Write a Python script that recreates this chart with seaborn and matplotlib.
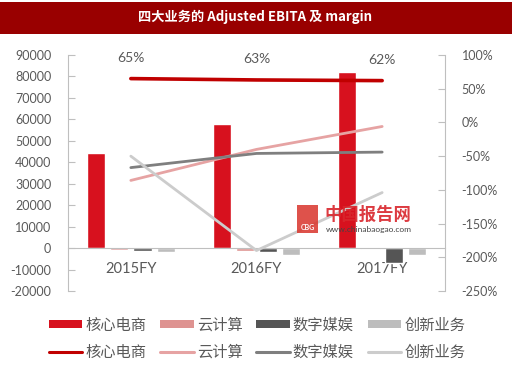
import numpy as np
import pandas as pd
import seaborn as sns
import matplotlib.pyplot as plt
from matplotlib.patches import Patch, Rectangle
from matplotlib.lines import Line2D
from matplotlib.ticker import PercentFormatter, MultipleLocator

# data
years = ['2015FY', '2016FY', '2017FY']
segments = ['核心电商', '云计算', '数字媒娱', '创新业务']
ebita_core = [44400, 57800, 81900]
ebita_cloud = [-1000, -1200, -400]
ebita_media = [-1500, -1900, -7000]
ebita_innov = [-1700, -3400, -3300]
margin_core = [0.65, 0.63, 0.62]
margin_cloud = [-0.86, -0.40, -0.06]
margin_media = [-0.67, -0.46, -0.44]
margin_innov = [-0.50, -1.90, -1.04]

bar_colors = ['#D7111E', '#DE9391', '#555555', '#BDBDBD']
line_colors = ['#C00000', '#E6A3A3', '#7F7F7F', '#CCCCCC']
text_gray = '#595959'
axis_gray = '#BFBFBF'

ebita = [ebita_core, ebita_cloud, ebita_media, ebita_innov]
margin = [margin_core, margin_cloud, margin_media, margin_innov]
df_bar = pd.DataFrame([(y, s, ebita[j][i]) for j, s in enumerate(segments)
                       for i, y in enumerate(years)], columns=['year', 'segment', 'ebita'])
df_line = pd.DataFrame([(i, s, margin[j][i]) for j, s in enumerate(segments)
                        for i, y in enumerate(years)], columns=['pos', 'segment', 'margin'])

sns.set_style('white')
plt.rcParams['font.family'] = ['Lato', 'Noto Sans CJK SC', 'DejaVu Sans']
plt.rcParams['axes.unicode_minus'] = False

fig = plt.figure(figsize=(5.2, 3.69), dpi=100)
W, H = 520, 369
ax = fig.add_axes([68 / W, 1 - 291 / H, (445 - 68) / W, (291 - 55) / H])

sns.barplot(data=df_bar, x='year', y='ebita', hue='segment', hue_order=segments,
            palette=dict(zip(segments, bar_colors)), width=0.74, gap=0.22,
            saturation=1, legend=False, ax=ax)
ax.set_ylim(-20000, 90000)
ax.yaxis.set_major_locator(MultipleLocator(10000))
ax.set_xlim(-0.5, 2.5)
ax.set_xlabel('')
ax.set_ylabel('')

ax2 = ax.twinx()
sns.lineplot(data=df_line, x='pos', y='margin', hue='segment', hue_order=segments,
             palette=dict(zip(segments, line_colors)), linewidth=2.0,
             legend=False, ax=ax2)
ax2.lines[0].set_linewidth(2.6)
ax2.set_ylim(-2.5, 1.0)
ax2.yaxis.set_major_locator(MultipleLocator(0.5))
ax2.yaxis.set_major_formatter(PercentFormatter(xmax=1, decimals=0))
ax2.set_xlim(-0.5, 2.5)
ax2.set_xlabel('')
ax2.set_ylabel('')

for i, v in enumerate(margin_core):
    ax2.annotate(f'{v:.0%}', (i, v), xytext=(0, 15), textcoords='offset points',
                 ha='center', va='center', fontsize=10, color=text_gray)

# axes styling
for a in (ax, ax2):
    for sp in a.spines.values():
        sp.set_color(axis_gray)
        sp.set_linewidth(0.8)
    a.spines['top'].set_visible(False)
ax.spines['right'].set_visible(False)
ax2.spines['left'].set_visible(False)
ax2.spines['bottom'].set_visible(False)
ax.spines['bottom'].set_position(('data', 0))

ax.tick_params(axis='y', direction='in', length=5, color=axis_gray, pad=12,
               labelsize=9, labelcolor=text_gray)
ax2.tick_params(axis='y', direction='in', length=5, color=axis_gray, pad=12,
                labelsize=9, labelcolor=text_gray)
ax.set_xticks(range(len(years)))
ax.set_xticklabels(years)
ax.set_xticks([0.5, 1.5], minor=True)
ax.tick_params(axis='x', which='major', length=0, pad=10, labelsize=10.5,
               labelcolor=text_gray)
ax.tick_params(axis='x', which='minor', direction='in', length=4, color=axis_gray)
ax2.tick_params(axis='x', length=0, labelbottom=False)

# title banner
fig.patches.append(Rectangle((0, 1 - 34 / H), 512 / W, 32 / H, transform=fig.transFigure,
                             facecolor='#990000', edgecolor='none'))
fig.text(255 / W, 1 - 17 / H, '四大业务的 Adjusted EBITA 及 margin', color='white',
         fontsize=9.5, fontweight='bold', ha='center', va='center',
         family=['Noto Sans CJK SC', 'DejaVu Sans'])

# watermark
fig.patches.append(Rectangle((297 / W, 1 - 233 / H), 21 / W, 28 / H, transform=fig.transFigure,
                             facecolor='#D9342B', edgecolor='none', alpha=0.85, zorder=5))
fig.text(307.5 / W, 1 - 228 / H, 'CBG', color='white', fontsize=5, fontweight='bold',
         ha='center', va='center', zorder=6)
fig.text(368 / W, 1 - 215 / H, '中国报告网', color='#D9262C', fontsize=12.5, fontweight='bold',
         ha='center', va='center', family=['Noto Sans CJK SC'], alpha=0.9, zorder=6)
fig.text(369 / W, 1 - 229 / H, 'www.chinabaogao.com', color='#444444', fontsize=6,
         ha='center', va='center', zorder=6)

# legend
handles, labels = [], []
for s, bc, lc in zip(segments, bar_colors, line_colors):
    handles += [Patch(facecolor=bc, edgecolor='none'),
                Line2D([], [], color=lc, linewidth=2.2)]
    labels += [s, s]
fig.legend(handles, labels, ncol=4, loc='center', bbox_to_anchor=(257 / W, 1 - 339 / H),
           frameon=False, fontsize=11, handlelength=2.2, handleheight=0.5,
           handletextpad=0.2, columnspacing=0.9, labelspacing=0.85,
           labelcolor=text_gray)

fig.savefig('out.png', dpi=100)
